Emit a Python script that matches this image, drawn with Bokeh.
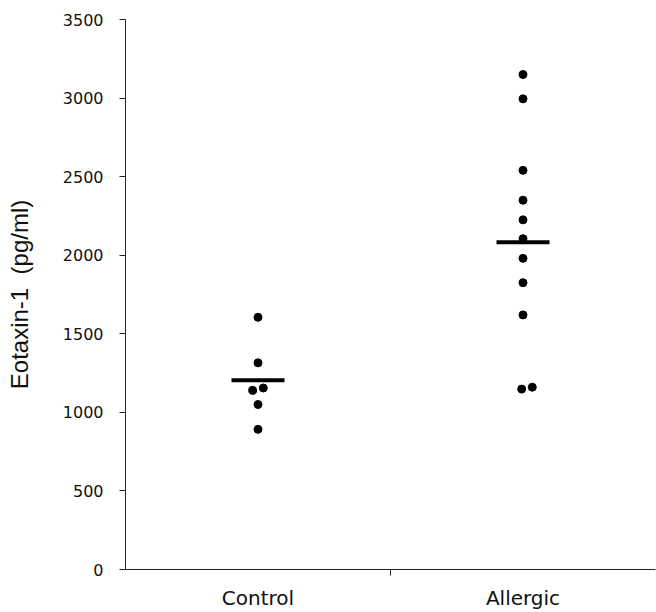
from bokeh.plotting import figure
from bokeh.models import FixedTicker, Range1d, ColumnDataSource
from bokeh.embed import file_html
from bokeh.resources import INLINE

categories = ["Control", "Allergic"]
control_values = [1605, 1315, 1155, 1140, 1050, 892]
allergic_values = [3150, 2995, 2540, 2350, 2225, 2105, 1980, 1825, 1620, 1160, 1148]
group_means = [1205, 2082]
y_ticks = [0, 500, 1000, 1500, 2000, 2500, 3000, 3500]

# small horizontal offsets for overlapping points (category units)
control_offsets = [0, 0, 0.02, -0.02, 0, 0]
allergic_offsets = [0, 0, 0, 0, 0, 0, 0, 0, 0, 0.035, -0.005]

cat_pos = {c: i + 0.5 for i, c in enumerate(categories)}

p = figure(width=656, height=612, output_backend="svg", toolbar_location=None,
           x_range=Range1d(0, 2), y_range=Range1d(0, 3500),
           min_border_left=125, min_border_top=19, min_border_right=1, min_border_bottom=43)
p.outline_line_color = None
p.xgrid.visible = False
p.ygrid.visible = False
p.background_fill_color = "white"

src_c = ColumnDataSource(dict(x=[cat_pos["Control"] + o for o in control_offsets], y=control_values))
src_a = ColumnDataSource(dict(x=[cat_pos["Allergic"] + o for o in allergic_offsets], y=allergic_values))
p.scatter("x", "y", source=src_c, size=8, color="black")
p.scatter("x", "y", source=src_a, size=8, color="black")

mean_src = ColumnDataSource(dict(x0=[cat_pos[c] - 0.1 for c in categories],
                                 x1=[cat_pos[c] + 0.1 for c in categories],
                                 y=group_means))
p.segment(x0="x0", y0="y", x1="x1", y1="y", source=mean_src, line_width=4, color="black")

# y axis
p.yaxis.ticker = FixedTicker(ticks=y_ticks)
p.yaxis.axis_label = "Eotaxin-1\u00a0\u00a0(pg/ml)"
p.yaxis.axis_label_text_font = "Liberation Sans"
p.yaxis.axis_label_text_font_style = "normal"
p.yaxis.axis_label_text_font_size = "24px"
p.yaxis.axis_label_text_color = "#111111"
p.yaxis.axis_label_standoff = 27
p.yaxis.major_label_text_font = "DejaVu Sans"
p.yaxis.major_label_text_font_size = "16px"
p.yaxis.major_label_text_color = "#111111"
p.yaxis.major_tick_in = 0
p.yaxis.major_tick_out = 6
p.yaxis.minor_tick_line_color = None
p.yaxis.major_label_standoff = 16
p.yaxis.axis_line_color = "#222222"
p.yaxis.major_tick_line_color = "#222222"

# x axis
p.xaxis.ticker = FixedTicker(ticks=[cat_pos[c] for c in categories], minor_ticks=[1])
p.xaxis.major_label_overrides = {cat_pos[c]: c for c in categories}
p.xaxis.major_tick_in = 0
p.xaxis.major_tick_out = 0
p.xaxis.minor_tick_in = 0
p.xaxis.minor_tick_out = 6
p.xaxis.major_label_standoff = 10
p.xaxis.major_label_text_font = "DejaVu Sans"
p.xaxis.major_label_text_font_size = "20px"
p.xaxis.major_label_text_color = "#111111"
p.xaxis.axis_line_color = "#222222"
p.xaxis.minor_tick_line_color = "#222222"

open("out.html", "w").write(file_html(p, INLINE))
